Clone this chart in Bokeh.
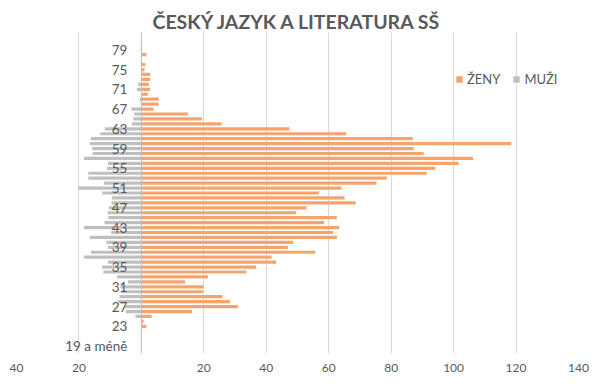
from bokeh.plotting import figure
from bokeh.models import ColumnDataSource, FactorRange, Range1d, FixedTicker, Legend, LegendItem, Span, Label
from bokeh.embed import file_html
from bokeh.resources import INLINE

# Categories (age), bottom to top
categories = ["19 a méně"] + [str(a) for a in range(20, 82)]

# Women (ŽENY) – plotted to the right
zeny = [0, 0, 0, 0, 1.6, 0.7, 3.3, 16.2, 30.9, 28.4,
        26.0, 19.7, 19.9, 14.0, 21.3, 33.6, 36.8, 43.2, 41.7, 55.7,
        46.9, 48.6, 62.6, 61.4, 63.4, 58.5, 62.6, 49.6, 52.9, 68.6,
        65.1, 56.9, 64.1, 75.3, 78.6, 91.4, 94.1, 101.6, 106.3, 90.4,
        87.2, 118.5, 86.9, 65.6, 47.4, 25.7, 19.4, 14.9, 3.9, 5.5,
        5.5, 2.1, 2.8, 2.4, 2.8, 2.8, 1.0, 1.3, 0, 1.6,
        0, 0.3, 0]

# Men (MUŽI) – plotted to the left
muzi = [0, 0, 0, 0, 0, 0, 1.9, 5.0, 5.3, 7.5,
        7.0, 6.6, 6.7, 4.3, 7.8, 12.2, 12.6, 10.7, 18.4, 16.1,
        10.7, 11.2, 16.5, 9.7, 18.4, 11.8, 10.6, 10.8, 10.4, 9.6,
        9.5, 12.5, 20.2, 12.0, 17.0, 17.0, 11.0, 10.7, 18.4, 15.6,
        15.8, 16.5, 16.2, 13.2, 11.7, 3.0, 2.6, 2.3, 3.2, 0,
        0.5, 0, 1.4, 1.0, 0, 0, 0, 0, 0, 0,
        0, 0, 0]

shown_labels = ["19 a méně", "23", "27", "31", "35", "39", "43", "47",
                "51", "55", "59", "63", "67", "71", "75", "79"]

x_ticks = [-40, -20, 0, 20, 40, 60, 80, 100, 120, 140]
x_tick_labels = ["40", "20", "", "20", "40", "60", "80", "100", "120", "140"]

ORANGE = "#F4A46C"
GRAY = "#BFBFBF"
TXT = "#595959"
FONT = "Lato"

src = ColumnDataSource(dict(cat=categories, zeny=zeny,
                            muzi_neg=[-v for v in muzi]))

p = figure(width=598, height=386,
           y_range=FactorRange(*categories, range_padding=1,
                               range_padding_units="absolute"),
           x_range=Range1d(-40, 140),
           output_backend="svg", toolbar_location=None,
           min_border_left=16, min_border_right=20,
           min_border_bottom=33, min_border_top=32)

p.title.text = "ČESKÝ JAZYK A LITERATURA SŠ"
p.title.align = "center"
p.title.text_font = FONT
p.title.text_font_size = "19.5px"
p.title.text_font_style = "bold"
p.title.text_color = TXT
p.title.standoff = 0

p.outline_line_color = None
p.background_fill_color = "white"
p.border_fill_color = "white"

r_m = p.hbar(y="cat", left="muzi_neg", right=0, height=0.65,
             fill_color=GRAY, line_color=None, source=src)
r_z = p.hbar(y="cat", left=0, right="zeny", height=0.65,
             fill_color=ORANGE, line_color=None, source=src)

p.add_layout(Span(location=0, dimension="height", line_color=GRAY, line_width=1))

p.yaxis.visible = False
p.ygrid.grid_line_color = None

p.xaxis.ticker = FixedTicker(ticks=x_ticks)
p.xaxis.major_label_overrides = {t: l for t, l in zip(x_ticks, x_tick_labels)}
p.xaxis.axis_line_color = None
p.xaxis.major_tick_line_color = None
p.xaxis.minor_tick_line_color = None
p.xaxis.major_label_standoff = 4
p.xaxis.major_label_text_font = FONT
p.xaxis.major_label_text_font_size = "12px"
p.xaxis.major_label_text_color = TXT
p.xgrid.ticker = FixedTicker(ticks=x_ticks)
p.xgrid.grid_line_color = "#D9D9D9"

# category labels sit next to the zero axis; a factor's centre in the
# categorical range's synthetic coordinates is its index + 0.5
for lab in shown_labels:
    p.add_layout(Label(x=0, y=categories.index(lab) + 0.5, text=lab,
                       text_align="right", text_baseline="middle", x_offset=-14,
                       text_font=FONT, text_font_size="13.5px", text_color=TXT))

legend = Legend(items=[LegendItem(label="ŽENY", renderers=[r_z]),
                       LegendItem(label="MUŽI", renderers=[r_m])],
                orientation="horizontal", location=(439, 266),
                border_line_alpha=0, background_fill_alpha=0,
                label_text_font=FONT, label_text_font_size="13px",
                label_text_color=TXT, glyph_width=8, glyph_height=8,
                spacing=12, padding=0, margin=0, label_standoff=4)
p.add_layout(legend)

open("out.html", "w").write(file_html(p, INLINE))
